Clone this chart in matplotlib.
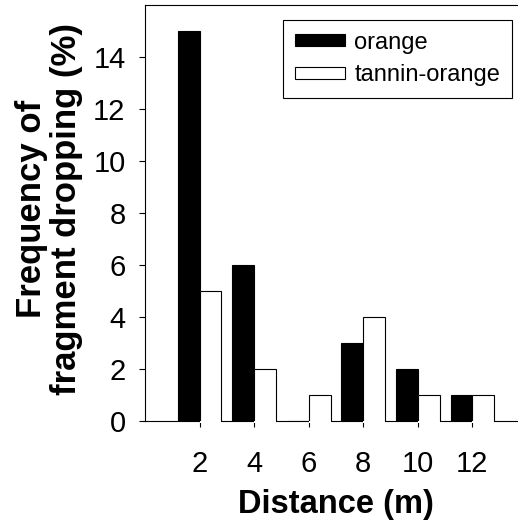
import matplotlib
matplotlib.use('Agg')
import matplotlib.pyplot as plt
from matplotlib.patches import Patch
import numpy as np

distance = [2, 4, 6, 8, 10, 12]
tick_labels = ['2', '4', '6', '8', '10', '12']
orange = [15, 6, 0, 3, 2, 1]
tannin_orange = [5, 2, 1, 4, 1, 1]
series_names = ['orange', 'tannin-orange']

plt.rcParams['font.family'] = ['Liberation Sans', 'DejaVu Sans']

fig = plt.figure(figsize=(5.18, 5.21), dpi=100)
ax = fig.add_axes([145 / 518, 100 / 521, 382 / 518, 416 / 521])

w = 0.8
x = np.array(distance, dtype=float)

ax.bar(x - w / 2, orange, width=w, align='center', color='black',
       edgecolor='black', linewidth=0.8, zorder=3)

# white bars hide the baseline beneath them, outline drawn without a bottom edge
lift = 0.06
ax.bar(x + w / 2, np.array(tannin_orange) + lift, bottom=-lift, width=w,
       color='white', edgecolor='none', zorder=3, clip_on=False)
for xi, h in zip(x, tannin_orange):
    ax.stairs([h], [xi, xi + w], baseline=0, color='black', linewidth=0.8, zorder=4)

ax.set_xlim(0, 14)
ax.set_ylim(0, 16)
ax.set_xticks(distance, tick_labels)
ax.set_yticks(np.arange(0, 15, 2))
ax.tick_params(axis='x', direction='out', length=4, width=0.8, pad=17, labelsize=21)
ax.tick_params(axis='y', direction='out', length=4, width=0.8, pad=10, labelsize=21)
for s in ax.spines.values():
    s.set_linewidth(0.8)

handles = [Patch(facecolor='black', edgecolor='black', linewidth=0.8),
           Patch(facecolor='white', edgecolor='black', linewidth=0.8)]
leg = ax.legend(handles, series_names, loc='upper right',
                bbox_to_anchor=(512 / 518, 1 - 20 / 521), bbox_transform=fig.transFigure,
                fontsize=17, frameon=True, fancybox=False, edgecolor='black',
                framealpha=1, handlelength=2.1, handleheight=0.42,
                handletextpad=0.4, labelspacing=0.45, borderpad=0.5, borderaxespad=0)
leg.get_frame().set_linewidth(0.8)

fig.text(336 / 518, 8 / 521, 'Distance (m)', ha='center', va='baseline',
         fontsize=23.5, fontweight='bold')
fig.text(49 / 518, 1 - 209 / 521, 'Frequency of\nfragment dropping (%)',
         rotation=90, ha='center', va='center', multialignment='center',
         fontsize=25, fontweight='bold', linespacing=1.1)

fig.savefig('out.png', dpi=100)
